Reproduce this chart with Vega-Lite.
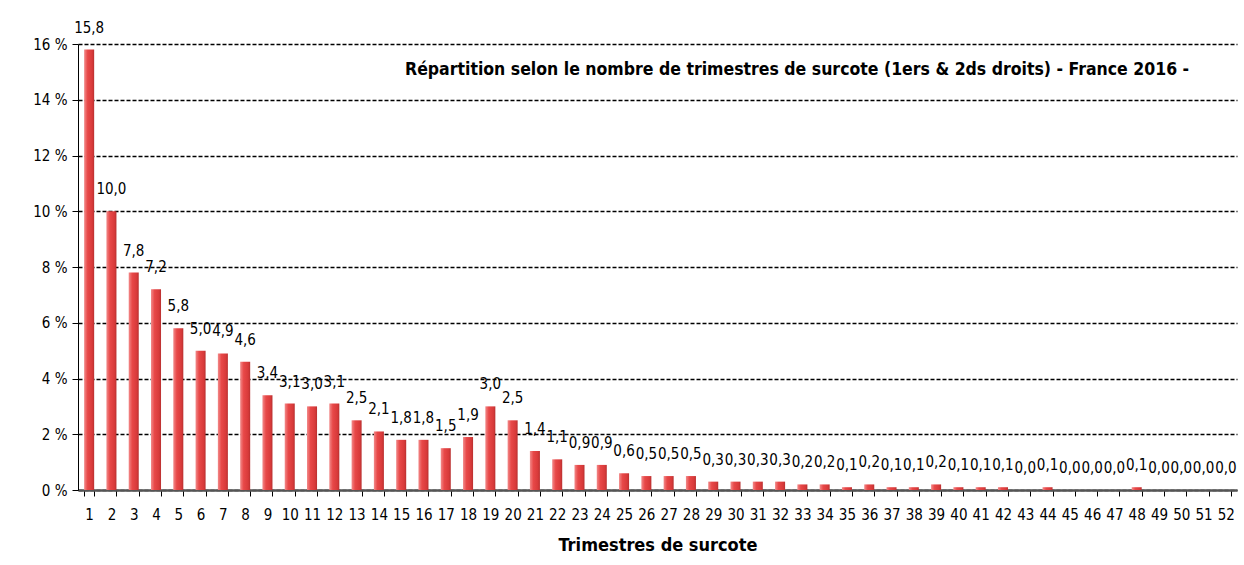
{
  "$schema": "https://vega.github.io/schema/vega-lite/v6.json",
  "autosize": "none",
  "width": 1159,
  "height": 446,
  "padding": {"left": 78, "top": 44, "right": 7, "bottom": 75},
  "background": "white",
  "config": {
    "locale": {"number": {"decimal": ",", "thousands": " ", "grouping": [3], "currency": ["", " €"]}},
    "font": "DejaVu Sans Condensed, sans-serif",
    "view": {"stroke": null}
  },
  "title": {
    "text": "Répartition selon le nombre de trimestres de surcote  (1ers & 2ds droits)  - France 2016 -",
    "anchor": "start",
    "frame": "group",
    "dx": 327,
    "dy": 62,
    "fontSize": 17.5,
    "fontWeight": "bold",
    "color": "#000000",
    "font": "DejaVu Sans Condensed, sans-serif"
  },
  "data": {
    "values": [
      {"t": "1", "v": 15.8}, {"t": "2", "v": 10.0}, {"t": "3", "v": 7.8}, {"t": "4", "v": 7.2},
      {"t": "5", "v": 5.8}, {"t": "6", "v": 5.0}, {"t": "7", "v": 4.9}, {"t": "8", "v": 4.6},
      {"t": "9", "v": 3.4}, {"t": "10", "v": 3.1}, {"t": "11", "v": 3.0}, {"t": "12", "v": 3.1},
      {"t": "13", "v": 2.5}, {"t": "14", "v": 2.1}, {"t": "15", "v": 1.8}, {"t": "16", "v": 1.8},
      {"t": "17", "v": 1.5}, {"t": "18", "v": 1.9}, {"t": "19", "v": 3.0}, {"t": "20", "v": 2.5},
      {"t": "21", "v": 1.4}, {"t": "22", "v": 1.1}, {"t": "23", "v": 0.9}, {"t": "24", "v": 0.9},
      {"t": "25", "v": 0.6}, {"t": "26", "v": 0.5}, {"t": "27", "v": 0.5}, {"t": "28", "v": 0.5},
      {"t": "29", "v": 0.3}, {"t": "30", "v": 0.3}, {"t": "31", "v": 0.3}, {"t": "32", "v": 0.3},
      {"t": "33", "v": 0.2}, {"t": "34", "v": 0.2}, {"t": "35", "v": 0.1}, {"t": "36", "v": 0.2},
      {"t": "37", "v": 0.1}, {"t": "38", "v": 0.1}, {"t": "39", "v": 0.2}, {"t": "40", "v": 0.1},
      {"t": "41", "v": 0.1}, {"t": "42", "v": 0.1}, {"t": "43", "v": 0.0}, {"t": "44", "v": 0.1},
      {"t": "45", "v": 0.0}, {"t": "46", "v": 0.0}, {"t": "47", "v": 0.0}, {"t": "48", "v": 0.1},
      {"t": "49", "v": 0.0}, {"t": "50", "v": 0.0}, {"t": "51", "v": 0.0}, {"t": "52", "v": 0.0}
    ]
  },
  "encoding": {
    "x": {
      "field": "t",
      "type": "ordinal",
      "sort": null,
      "scale": {"paddingInner": 0.55, "paddingOuter": 0.275},
      "axis": {
        "title": "Trimestres de surcote",
        "titleFontSize": 18,
        "titleFontWeight": "bold",
        "titleColor": "#000000",
        "titlePadding": 14,
        "labelAngle": 0,
        "labelFontSize": 15,
        "labelColor": "#000000",
        "labelPadding": 11,
        "tickBand": "extent",
        "tickSize": 6,
        "tickColor": "#000000",
        "domainColor": "#555555",
        "domainWidth": 2.5,
        "grid": false
      }
    },
    "y": {
      "field": "v",
      "type": "quantitative",
      "scale": {"domain": [0, 16], "nice": false},
      "axis": {
        "title": null,
        "values": [0, 2, 4, 6, 8, 10, 12, 14, 16],
        "labelExpr": "datum.value + ' %'",
        "labelFontSize": 15,
        "labelColor": "#000000",
        "labelPadding": 5,
        "tickSize": 6,
        "tickColor": "#000000",
        "domainColor": "#000000",
        "grid": true,
        "gridColor": "#000000",
        "gridDash": [4, 2],
        "gridWidth": 1.5
      }
    }
  },
  "layer": [
    {
      "mark": {
        "type": "bar",
        "color": {
          "gradient": "linear",
          "x1": 0, "x2": 1, "y1": 0, "y2": 0,
          "stops": [
            {"offset": 0, "color": "#f28a8a"},
            {"offset": 0.35, "color": "#e84848"},
            {"offset": 0.8, "color": "#d83a3a"},
            {"offset": 1, "color": "#b83030"}
          ]
        }
      }
    },
    {
      "mark": {"type": "text", "baseline": "bottom", "dy": -14, "fontSize": 15, "color": "#000000"},
      "encoding": {
        "text": {"field": "v", "type": "quantitative", "format": ".1f"}
      }
    }
  ]
}
